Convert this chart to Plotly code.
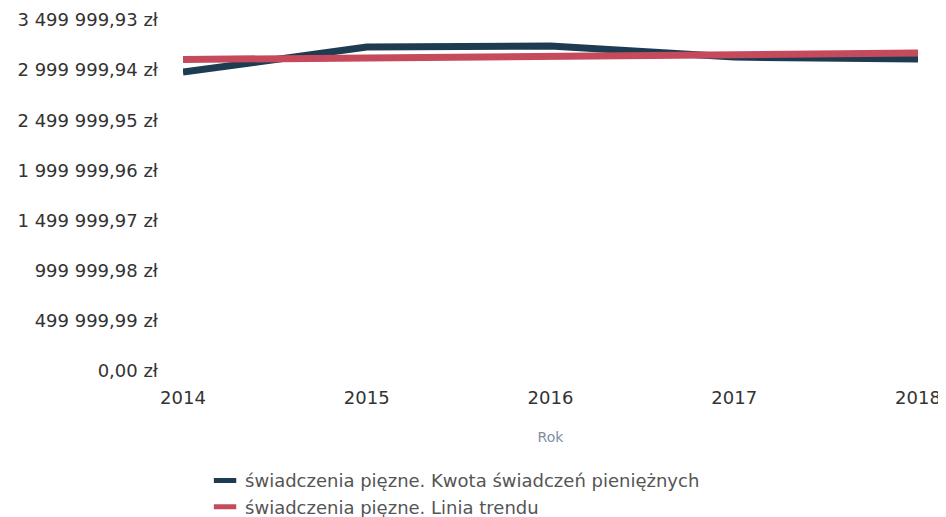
import plotly.graph_objects as go

years = [2014, 2015, 2016, 2017, 2018]
kwota = [2980000, 3230000, 3240000, 3130000, 3110000]
trend = [3106000, 3122000, 3138000, 3154000, 3170000]

y_tick_vals = [0, 499999.99, 999999.98, 1499999.97, 1999999.96, 2499999.95, 2999999.94, 3499999.93]
y_tick_text = ["0,00 zł", "499 999,99 zł", "999 999,98 zł", "1 499 999,97 zł",
               "1 999 999,96 zł", "2 499 999,95 zł", "2 999 999,94 zł", "3 499 999,93 zł"]

name_kwota = "świadczenia pięzne. Kwota świadczeń pieniężnych"
name_trend = "świadczenia pięzne. Linia trendu"
c_blue = "#1d3c52"
c_red = "#c44a5c"

fig = go.Figure()
fig.add_trace(go.Scatter(x=years, y=kwota, mode="lines", line=dict(color=c_blue, width=7),
                         showlegend=False, name=name_kwota))
fig.add_trace(go.Scatter(x=years, y=trend, mode="lines", line=dict(color=c_red, width=7),
                         showlegend=False, name=name_trend))
# legend entries (rectangular swatches)
fig.add_trace(go.Scatter(x=[None], y=[None], mode="markers", name=name_kwota,
                         marker=dict(symbol="line-ew", size=18, color=c_blue,
                                     line=dict(color=c_blue, width=7))))
fig.add_trace(go.Scatter(x=[None], y=[None], mode="markers", name=name_trend,
                         marker=dict(symbol="line-ew", size=18, color=c_red,
                                     line=dict(color=c_red, width=7))))

fig.update_layout(
    width=946, height=517,
    margin=dict(l=175, r=36, t=12, b=154, autoexpand=False),
    paper_bgcolor="white", plot_bgcolor="white",
    font=dict(family="DejaVu Sans, sans-serif", size=18, color="#333333"),
    xaxis=dict(
        range=[2014, 2018], tickvals=years, ticktext=[str(y) for y in years],
        showgrid=False, zeroline=False, showline=False, ticks="",
        ticklabelstandoff=14, automargin=False,
        title=dict(text="Rok", font=dict(size=14, color="#7d8ea0"), standoff=25),
    ),
    yaxis=dict(
        range=[0, 3499999.93], tickvals=y_tick_vals, ticktext=y_tick_text,
        showgrid=False, zeroline=False, showline=False, ticks="",
        ticklabelstandoff=24, automargin=False,
    ),
    legend=dict(
        x=0.03, y=-0.26,
        xanchor="left", yanchor="top",
        font=dict(size=18, color="#555555"),
        itemwidth=30, tracegroupgap=0,
    ),
)

fig.write_html("out.html")
